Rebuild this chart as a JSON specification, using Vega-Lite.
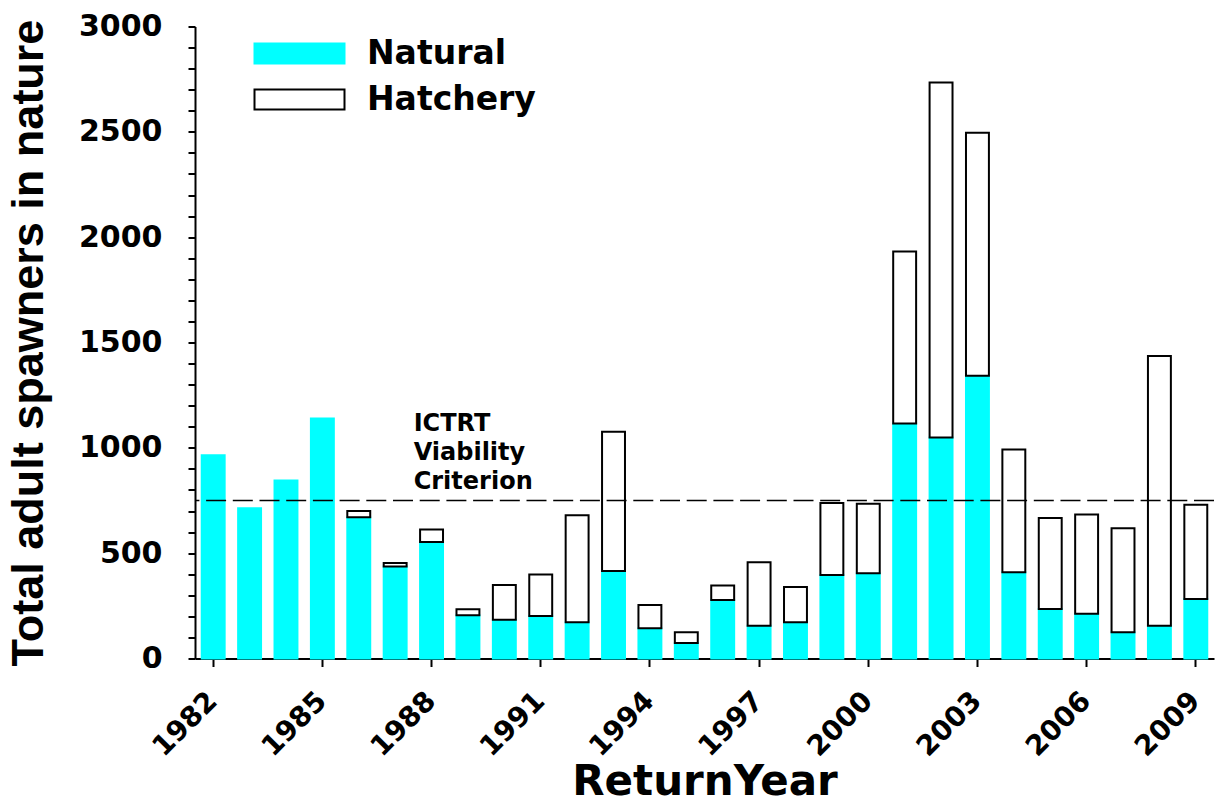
{
  "$schema": "https://vega.github.io/schema/vega-lite/v6.json",
  "width": 1019,
  "height": 632,
  "autosize": "none",
  "padding": {"left": 195, "top": 26.5, "right": 2, "bottom": 145.5},
  "background": "white",
  "config": {"view": {"stroke": null}, "font": "DejaVu Sans"},
  "datasets": {
    "spawners": [
      {"year": 1982, "source": "Natural", "count": 965},
      {"year": 1983, "source": "Natural", "count": 713},
      {"year": 1984, "source": "Natural", "count": 845},
      {"year": 1985, "source": "Natural", "count": 1139},
      {"year": 1986, "source": "Natural", "count": 670},
      {"year": 1987, "source": "Natural", "count": 437},
      {"year": 1988, "source": "Natural", "count": 553},
      {"year": 1989, "source": "Natural", "count": 205},
      {"year": 1990, "source": "Natural", "count": 184},
      {"year": 1991, "source": "Natural", "count": 202},
      {"year": 1992, "source": "Natural", "count": 172},
      {"year": 1993, "source": "Natural", "count": 415},
      {"year": 1994, "source": "Natural", "count": 144},
      {"year": 1995, "source": "Natural", "count": 73},
      {"year": 1996, "source": "Natural", "count": 278},
      {"year": 1997, "source": "Natural", "count": 155},
      {"year": 1998, "source": "Natural", "count": 172},
      {"year": 1999, "source": "Natural", "count": 396},
      {"year": 2000, "source": "Natural", "count": 405},
      {"year": 2001, "source": "Natural", "count": 1116},
      {"year": 2002, "source": "Natural", "count": 1049},
      {"year": 2003, "source": "Natural", "count": 1342},
      {"year": 2004, "source": "Natural", "count": 409},
      {"year": 2005, "source": "Natural", "count": 235},
      {"year": 2006, "source": "Natural", "count": 213},
      {"year": 2007, "source": "Natural", "count": 125},
      {"year": 2008, "source": "Natural", "count": 156},
      {"year": 2009, "source": "Natural", "count": 282},
      {"year": 1986, "source": "Hatchery", "count": 30},
      {"year": 1987, "source": "Hatchery", "count": 16},
      {"year": 1988, "source": "Hatchery", "count": 59},
      {"year": 1989, "source": "Hatchery", "count": 29},
      {"year": 1990, "source": "Hatchery", "count": 165},
      {"year": 1991, "source": "Hatchery", "count": 197},
      {"year": 1992, "source": "Hatchery", "count": 508},
      {"year": 1993, "source": "Hatchery", "count": 661},
      {"year": 1994, "source": "Hatchery", "count": 110},
      {"year": 1995, "source": "Hatchery", "count": 52},
      {"year": 1996, "source": "Hatchery", "count": 69},
      {"year": 1997, "source": "Hatchery", "count": 302},
      {"year": 1998, "source": "Hatchery", "count": 167},
      {"year": 1999, "source": "Hatchery", "count": 342},
      {"year": 2000, "source": "Hatchery", "count": 330},
      {"year": 2001, "source": "Hatchery", "count": 816},
      {"year": 2002, "source": "Hatchery", "count": 1685},
      {"year": 2003, "source": "Hatchery", "count": 1154},
      {"year": 2004, "source": "Hatchery", "count": 583},
      {"year": 2005, "source": "Hatchery", "count": 432},
      {"year": 2006, "source": "Hatchery", "count": 471},
      {"year": 2007, "source": "Hatchery", "count": 493},
      {"year": 2008, "source": "Hatchery", "count": 1280},
      {"year": 2009, "source": "Hatchery", "count": 448}
    ],
    "criterion": [{"level": 750}],
    "annotation": [{"year": 1987, "level": 1080, "label": ["ICTRT", "Viability", "Criterion"]}]
  },
  "layer": [
    {
      "data": {"name": "spawners"},
      "mark": {"type": "bar", "strokeWidth": 2},
      "encoding": {
        "x": {
          "field": "year",
          "type": "ordinal",
          "scale": {"paddingInner": 0.37, "paddingOuter": 0.185},
          "axis": {
            "values": [1982, 1985, 1988, 1991, 1994, 1997, 2000, 2003, 2006, 2009],
            "labelAngle": -45,
            "labelAlign": "right",
            "labelBaseline": "middle",
            "labelFont": "DejaVu Sans",
            "labelFontWeight": "bold",
            "labelFontSize": 28,
            "labelColor": "black",
            "labelPadding": 30,
            "tickColor": "black",
            "tickSize": 8,
            "tickWidth": 2,
            "domainColor": "black",
            "domainWidth": 2,
            "title": "ReturnYear",
            "titleFont": "DejaVu Sans",
            "titleFontSize": 42,
            "titleFontWeight": "bold",
            "titleColor": "black",
            "titlePadding": 0
          }
        },
        "y": {
          "field": "count",
          "type": "quantitative",
          "stack": "zero",
          "scale": {"domain": [0, 3000], "nice": false},
          "axis": {
            "values": [0, 100, 200, 300, 400, 500, 600, 700, 800, 900, 1000, 1100, 1200, 1300, 1400, 1500, 1600, 1700, 1800, 1900, 2000, 2100, 2200, 2300, 2400, 2500, 2600, 2700, 2800, 2900, 3000],
            "tickCount": 40,
            "labelExpr": "datum.value % 500 === 0 ? datum.label : ''",
            "format": "d",
            "labelOverlap": false,
            "labelFlush": false,
            "labelFont": "DejaVu Sans",
            "labelFontWeight": "bold",
            "labelFontSize": 30,
            "labelColor": "black",
            "labelPadding": 26,
            "tickColor": "black",
            "tickSize": 7,
            "tickWidth": 2,
            "domainColor": "black",
            "domainWidth": 2,
            "grid": false,
            "title": "Total adult spawners in nature",
            "titleFont": "Liberation Sans",
            "titleFontSize": 45,
            "titleFontWeight": "bold",
            "titleColor": "black",
            "titlePadding": 27
          }
        },
        "color": {
          "field": "source",
          "type": "nominal",
          "scale": {"domain": ["Natural", "Hatchery"], "range": ["#00FFFF", "#FFFFFF"]},
          "legend": {
            "orient": "none",
            "legendX": 88,
            "legendY": 10.5,
            "title": null,
            "padding": 0,
            "symbolType": "M-4.5,-1H4.5V1H-4.5Z",
            "symbolSize": 400,
            "symbolStrokeWidth": 2,
            "symbolOpacity": 1,
            "labelFont": "DejaVu Sans",
            "labelFontWeight": "bold",
            "labelFontSize": 33,
            "labelColor": "black",
            "labelOffset": 51,
            "labelLimit": 400,
            "rowPadding": 12
          }
        },
        "stroke": {
          "field": "source",
          "type": "nominal",
          "scale": {"domain": ["Natural", "Hatchery"], "range": ["#00FFFF", "#000000"]}
        },
        "order": {"field": "source", "sort": "descending"}
      }
    },
    {
      "data": {"name": "criterion"},
      "mark": {"type": "rule", "strokeDash": [20, 6.7], "strokeWidth": 1.7, "color": "black"},
      "encoding": {"y": {"field": "level", "type": "quantitative"}}
    },
    {
      "data": {"name": "annotation"},
      "mark": {"type": "text", "align": "left", "baseline": "alphabetic", "font": "DejaVu Sans", "fontWeight": "bold", "fontSize": 24, "lineHeight": 29, "xOffset": 18.5, "color": "black"},
      "encoding": {
        "x": {"field": "year", "type": "ordinal"},
        "y": {"field": "level", "type": "quantitative"},
        "text": {"field": "label"}
      }
    }
  ]
}
